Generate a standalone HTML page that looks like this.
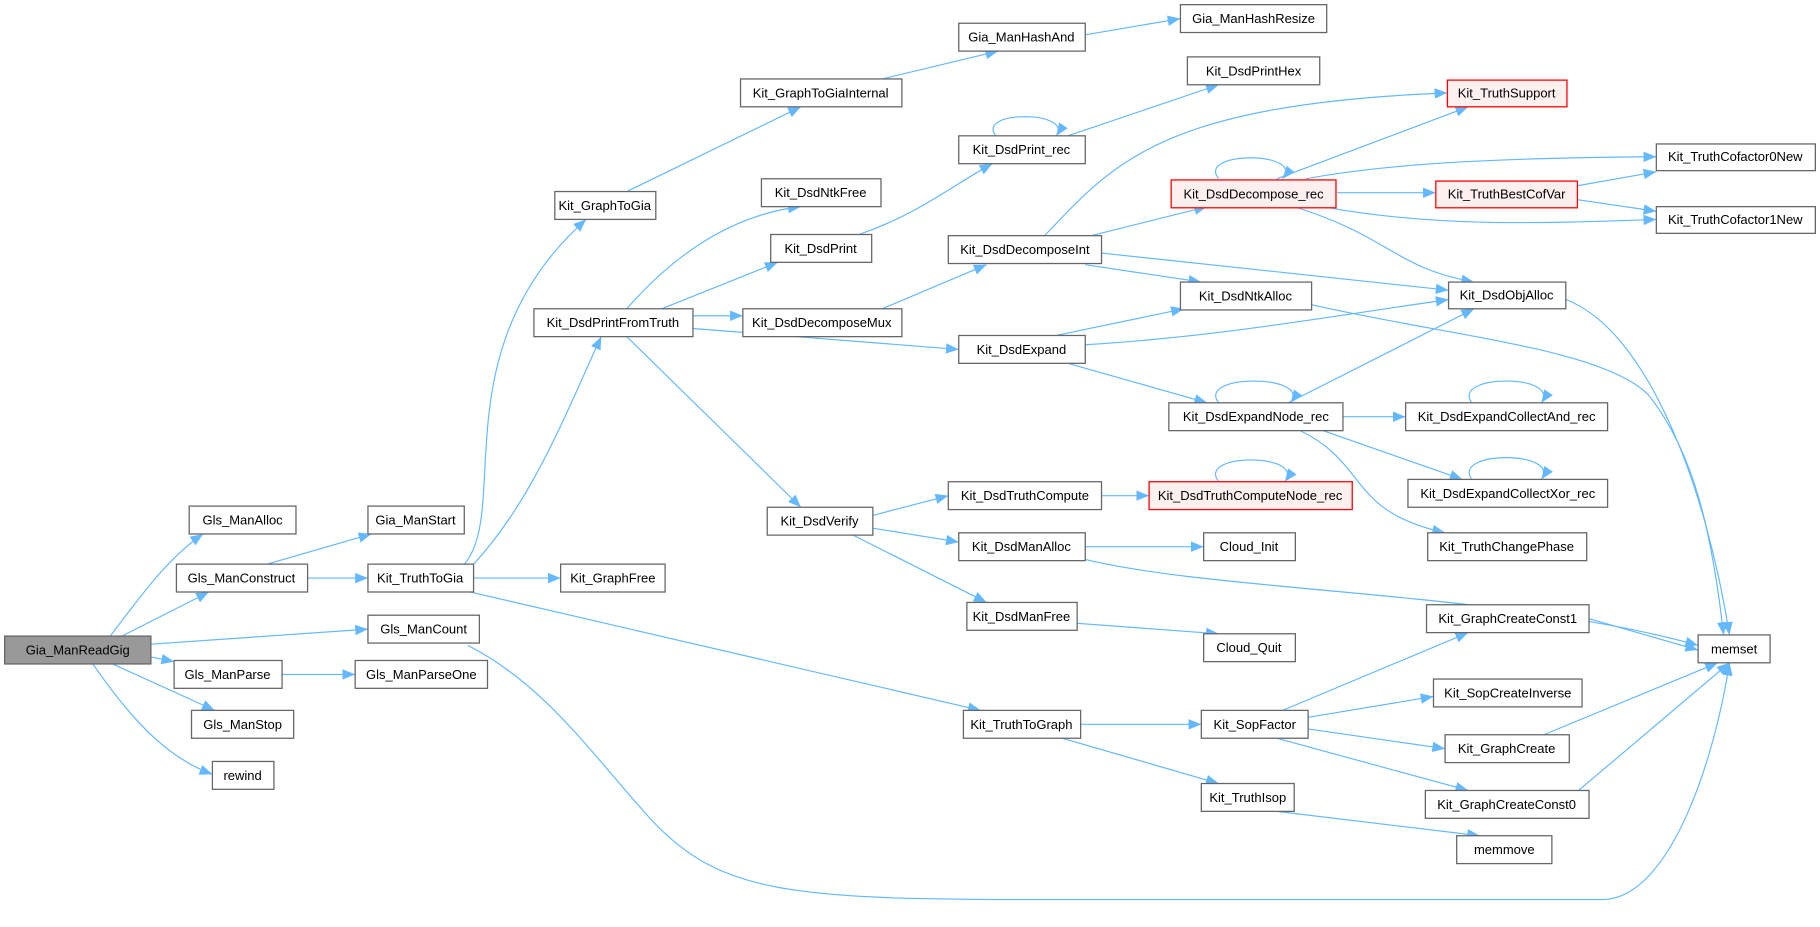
<!DOCTYPE html>
<html><head><meta charset="utf-8">
<style>
html,body{margin:0;padding:0;background:#fff;}
svg{display:block;}
text{font-family:"Liberation Sans",Arial,sans-serif;font-size:11.2px;fill:#000;text-anchor:middle;dominant-baseline:central;}
.n rect{fill:#fff;stroke:#666;stroke-width:1.1;}
.r rect{fill:#fff0f0;stroke:#f00;stroke-width:1.1;}
.g rect{fill:#999;stroke:#666;stroke-width:1.1;}
path.e{fill:none;stroke:#63b8ff;stroke-width:1;marker-end:url(#a);}
</style></head><body>
<svg width="1820" height="927" viewBox="0 0 1568 798.6" xmlns="http://www.w3.org/2000/svg">
<defs><marker id="a" markerUnits="userSpaceOnUse" markerWidth="12" markerHeight="10" refX="11" refY="4.5" orient="auto"><path d="M0,0 L11,4.5 L0,9 z" fill="#63b8ff"/></marker></defs>
<g>
<path class="e" d="M95,548 C120,515 145,480 175,460"/>
<path class="e" d="M105,548 L180,510"/>
<path class="e" d="M130,555 L317,542"/>
<path class="e" d="M130,566 L150,570"/>
<path class="e" d="M97,572 L185,612"/>
<path class="e" d="M80,572 C120,630 150,655 183,667"/>
<path class="e" d="M230,486 L320,460"/>
<path class="e" d="M265,498 L317,498"/>
<path class="e" d="M243,581 L306,581"/>
<path class="e" d="M403,556 C470,590 510,650 560,705 C620,770 680,775 900,775 L1380,775 C1440,775 1478,650 1490,571"/>
<path class="e" d="M400,486 C440,440 380,300 505,189"/>
<path class="e" d="M408,486 C460,430 490,350 518,290"/>
<path class="e" d="M408,498 L483,498"/>
<path class="e" d="M405,510 L845,612"/>
<path class="e" d="M540,165 L690,92"/>
<path class="e" d="M760,68 L860,44"/>
<path class="e" d="M935,30 L1017,16"/>
<path class="e" d="M540,266 C580,220 630,185 690,178"/>
<path class="e" d="M570,266 L670,226"/>
<path class="e" d="M597,272 L640,272"/>
<path class="e" d="M597,283 L826,301"/>
<path class="e" d="M540,290 L690,437"/>
<path class="e" d="M740,202 C790,185 820,160 855,141"/>
<path class="e" d="M920,117 L1050,73"/>
<path class="e" d="M858,117 C840,95 925,95 910,117"/>
<path class="e" d="M760,266 L850,228"/>
<path class="e" d="M900,203 C960,140 1000,90 1247,80"/>
<path class="e" d="M940,203 L1040,178"/>
<path class="e" d="M949,218 L1248,250"/>
<path class="e" d="M935,228 L1035,243"/>
<path class="e" d="M1050,154 C1030,130 1125,130 1105,154"/>
<path class="e" d="M1100,154 L1265,92"/>
<path class="e" d="M1125,154 C1200,140 1300,136 1427,135"/>
<path class="e" d="M1152,166 L1237,166"/>
<path class="e" d="M1140,178 C1230,195 1320,193 1427,189"/>
<path class="e" d="M1115,178 C1200,205 1200,230 1270,243"/>
<path class="e" d="M1359,160 L1427,148"/>
<path class="e" d="M1359,172 L1427,182"/>
<path class="e" d="M1349,258 C1420,285 1470,420 1490,547"/>
<path class="e" d="M1128,262 C1250,290 1380,300 1420,340 C1460,390 1475,460 1485,547"/>
<path class="e" d="M910,289 L1020,266"/>
<path class="e" d="M935,297 C1050,290 1150,272 1248,258"/>
<path class="e" d="M920,313 L1040,347"/>
<path class="e" d="M1110,347 L1270,266"/>
<path class="e" d="M1050,347 C1030,322 1130,322 1112,347"/>
<path class="e" d="M1157,359 L1211,359"/>
<path class="e" d="M1140,371 L1260,413"/>
<path class="e" d="M1120,371 C1180,400 1160,440 1245,459"/>
<path class="e" d="M1268,347 C1250,322 1345,322 1328,347"/>
<path class="e" d="M1268,413 C1250,388 1345,388 1328,413"/>
<path class="e" d="M752,444 L817,427"/>
<path class="e" d="M752,455 L826,467"/>
<path class="e" d="M735,461 L850,519"/>
<path class="e" d="M949,427 L990,427"/>
<path class="e" d="M1050,415 C1030,390 1125,390 1107,415"/>
<path class="e" d="M935,471 L1037,471"/>
<path class="e" d="M935,482 C1050,510 1300,510 1463,556"/>
<path class="e" d="M928,537 L1050,546"/>
<path class="e" d="M931,624 L1035,624"/>
<path class="e" d="M915,636 L1050,675"/>
<path class="e" d="M1105,612 L1265,545"/>
<path class="e" d="M1127,618 L1235,600"/>
<path class="e" d="M1127,628 L1245,645"/>
<path class="e" d="M1100,636 L1265,681"/>
<path class="e" d="M1100,699 L1275,720"/>
<path class="e" d="M1369,533 L1463,560"/>
<path class="e" d="M1330,633 L1480,571"/>
<path class="e" d="M1360,681 L1490,571"/>
</g>
<g class="g"><rect x="4" y="548" width="126" height="24"/><text x="67" y="560">Gia_ManReadGig</text></g>
<g class="n"><rect x="163" y="436" width="92" height="24"/><text x="209" y="448">Gls_ManAlloc</text></g>
<g class="n"><rect x="152" y="486" width="113" height="24"/><text x="208" y="498">Gls_ManConstruct</text></g>
<g class="n"><rect x="317" y="530" width="96" height="24"/><text x="365" y="542">Gls_ManCount</text></g>
<g class="n"><rect x="150" y="569" width="93" height="24"/><text x="196" y="581">Gls_ManParse</text></g>
<g class="n"><rect x="306" y="569" width="114" height="24"/><text x="363" y="581">Gls_ManParseOne</text></g>
<g class="n"><rect x="165" y="612" width="88" height="24"/><text x="209" y="624">Gls_ManStop</text></g>
<g class="n"><rect x="183" y="656" width="53" height="24"/><text x="209" y="668">rewind</text></g>
<g class="n"><rect x="317" y="436" width="83" height="24"/><text x="358" y="448">Gia_ManStart</text></g>
<g class="n"><rect x="317" y="486" width="91" height="24"/><text x="362" y="498">Kit_TruthToGia</text></g>
<g class="n"><rect x="483" y="486" width="90" height="24"/><text x="528" y="498">Kit_GraphFree</text></g>
<g class="n"><rect x="478" y="165" width="87" height="24"/><text x="521" y="177">Kit_GraphToGia</text></g>
<g class="n"><rect x="638" y="68" width="139" height="24"/><text x="707" y="80">Kit_GraphToGiaInternal</text></g>
<g class="n"><rect x="826" y="20" width="109" height="24"/><text x="880" y="32">Gia_ManHashAnd</text></g>
<g class="n"><rect x="1017" y="4" width="126" height="24"/><text x="1080" y="16">Gia_ManHashResize</text></g>
<g class="n"><rect x="656" y="154" width="103" height="24"/><text x="707" y="166">Kit_DsdNtkFree</text></g>
<g class="n"><rect x="664" y="202" width="87" height="24"/><text x="707" y="214">Kit_DsdPrint</text></g>
<g class="n"><rect x="826" y="117" width="109" height="24"/><text x="880" y="129">Kit_DsdPrint_rec</text></g>
<g class="n"><rect x="1023" y="49" width="114" height="24"/><text x="1080" y="61">Kit_DsdPrintHex</text></g>
<g class="n"><rect x="460" y="266" width="137" height="24"/><text x="528" y="278">Kit_DsdPrintFromTruth</text></g>
<g class="n"><rect x="640" y="266" width="137" height="24"/><text x="708" y="278">Kit_DsdDecomposeMux</text></g>
<g class="n"><rect x="817" y="203" width="132" height="24"/><text x="883" y="215">Kit_DsdDecomposeInt</text></g>
<g class="r"><rect x="1247" y="69" width="103" height="23"/><text x="1298" y="80">Kit_TruthSupport</text></g>
<g class="r"><rect x="1009" y="155" width="142" height="24"/><text x="1080" y="167">Kit_DsdDecompose_rec</text></g>
<g class="r"><rect x="1237" y="156" width="122" height="23"/><text x="1298" y="167">Kit_TruthBestCofVar</text></g>
<g class="n"><rect x="1427" y="124" width="137" height="23"/><text x="1495" y="135">Kit_TruthCofactor0New</text></g>
<g class="n"><rect x="1427" y="178" width="137" height="23"/><text x="1495" y="189">Kit_TruthCofactor1New</text></g>
<g class="n"><rect x="1248" y="243" width="101" height="23"/><text x="1298" y="254">Kit_DsdObjAlloc</text></g>
<g class="n"><rect x="1017" y="243" width="113" height="24"/><text x="1073" y="255">Kit_DsdNtkAlloc</text></g>
<g class="n"><rect x="826" y="289" width="109" height="24"/><text x="880" y="301">Kit_DsdExpand</text></g>
<g class="n"><rect x="1007" y="347" width="150" height="24"/><text x="1082" y="359">Kit_DsdExpandNode_rec</text></g>
<g class="n"><rect x="1211" y="347" width="174" height="24"/><text x="1298" y="359">Kit_DsdExpandCollectAnd_rec</text></g>
<g class="n"><rect x="1213" y="413" width="172" height="24"/><text x="1299" y="425">Kit_DsdExpandCollectXor_rec</text></g>
<g class="n"><rect x="1230" y="459" width="137" height="24"/><text x="1298" y="471">Kit_TruthChangePhase</text></g>
<g class="n"><rect x="661" y="437" width="91" height="24"/><text x="706" y="449">Kit_DsdVerify</text></g>
<g class="n"><rect x="817" y="415" width="132" height="24"/><text x="883" y="427">Kit_DsdTruthCompute</text></g>
<g class="r"><rect x="990" y="415" width="175" height="24"/><text x="1077" y="427">Kit_DsdTruthComputeNode_rec</text></g>
<g class="n"><rect x="826" y="459" width="109" height="24"/><text x="880" y="471">Kit_DsdManAlloc</text></g>
<g class="n"><rect x="1037" y="459" width="79" height="24"/><text x="1076" y="471">Cloud_Init</text></g>
<g class="n"><rect x="833" y="519" width="95" height="24"/><text x="880" y="531">Kit_DsdManFree</text></g>
<g class="n"><rect x="1037" y="546" width="79" height="24"/><text x="1076" y="558">Cloud_Quit</text></g>
<g class="n"><rect x="1463" y="547" width="62" height="24"/><text x="1494" y="559">memset</text></g>
<g class="n"><rect x="1229" y="521" width="140" height="24"/><text x="1299" y="533">Kit_GraphCreateConst1</text></g>
<g class="n"><rect x="1235" y="585" width="128" height="24"/><text x="1299" y="597">Kit_SopCreateInverse</text></g>
<g class="n"><rect x="1245" y="633" width="107" height="24"/><text x="1298" y="645">Kit_GraphCreate</text></g>
<g class="n"><rect x="1228" y="681" width="141" height="24"/><text x="1298" y="693">Kit_GraphCreateConst0</text></g>
<g class="n"><rect x="830" y="612" width="101" height="24"/><text x="880" y="624">Kit_TruthToGraph</text></g>
<g class="n"><rect x="1035" y="612" width="92" height="24"/><text x="1081" y="624">Kit_SopFactor</text></g>
<g class="n"><rect x="1035" y="675" width="80" height="24"/><text x="1075" y="687">Kit_TruthIsop</text></g>
<g class="n"><rect x="1255" y="720" width="82" height="24"/><text x="1296" y="732">memmove</text></g>
</svg>
</body></html>
